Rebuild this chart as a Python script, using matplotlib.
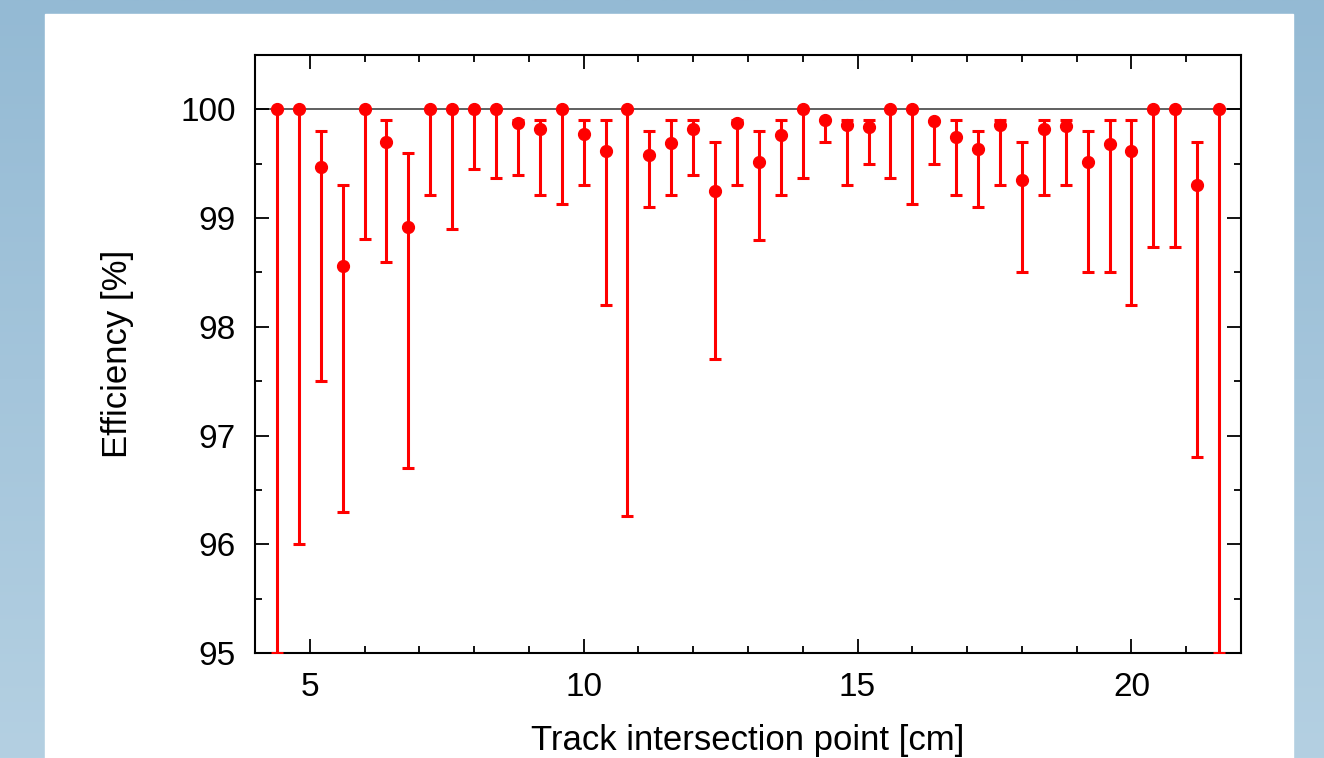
import numpy as np
import matplotlib
matplotlib.use("Agg")
import matplotlib.pyplot as plt
from matplotlib.colors import LinearSegmentedColormap

plt.rcParams['font.family'] = ['Liberation Sans', 'DejaVu Sans']

# track intersection point [cm]
position = [4.4, 4.8, 5.2, 5.6, 6.0, 6.4, 6.8, 7.2, 7.6, 8.0, 8.4, 8.8, 9.2,
            9.6, 10.0, 10.4, 10.8, 11.2, 11.6, 12.0, 12.4, 12.8, 13.2, 13.6, 14.0,
            14.4, 14.8, 15.2, 15.6, 16.0, 16.4, 16.8, 17.2, 17.6, 18.0, 18.4, 18.8,
            19.2, 19.6, 20.0, 20.4, 20.8, 21.2, 21.6]

# efficiency [%]
efficiency = [100.0, 100.0, 99.47, 98.56, 100.0, 99.70, 98.92, 100.0, 100.0, 100.0, 100.0, 99.87, 99.82,
              100.0, 99.77, 99.62, 100.0, 99.58, 99.69, 99.82, 99.25, 99.87, 99.52, 99.76, 100.0,
              99.90, 99.86, 99.84, 100.0, 100.0, 99.89, 99.75, 99.64, 99.86, 99.35, 99.82, 99.85,
              99.52, 99.68, 99.62, 100.0, 100.0, 99.30, 100.0]

# ends of the error bars [%]
err_low = [95.0, 96.0, 97.5, 96.3, 98.81, 98.6, 96.7, 99.21, 98.9, 99.45, 99.37, 99.4, 99.21,
           99.13, 99.3, 98.2, 96.26, 99.1, 99.21, 99.4, 97.7, 99.3, 98.8, 99.21, 99.37,
           99.7, 99.3, 99.5, 99.37, 99.13, 99.5, 99.21, 99.1, 99.3, 98.5, 99.21, 99.3,
           98.5, 98.5, 98.2, 98.73, 98.73, 96.8, 95.0]
err_high = [100.0, 100.0, 99.8, 99.3, 100.0, 99.9, 99.6, 100.0, 100.0, 100.0, 100.0, 99.9, 99.9,
            100.0, 99.9, 99.9, 100.0, 99.8, 99.9, 99.9, 99.7, 99.9, 99.8, 99.9, 100.0,
            99.9, 99.9, 99.9, 100.0, 100.0, 99.89, 99.9, 99.8, 99.9, 99.7, 99.9, 99.9,
            99.8, 99.9, 99.9, 100.0, 100.0, 99.7, 100.0]

eff = np.array(efficiency)
yerr = [eff - np.array(err_low), np.array(err_high) - eff]

fig = plt.figure(figsize=(13.24, 7.58), dpi=100)

# slide background
bg = fig.add_axes([0, 0, 1, 1])
cmap = LinearSegmentedColormap.from_list('slide', ['#94bad4', '#b4d0e2'])
bg.imshow(np.linspace(0, 1, 256).reshape(-1, 1), aspect='auto', cmap=cmap,
          extent=[0, 1, 0, 1], origin='upper')
bg.add_patch(plt.Rectangle((45 / 1324, 0), (1293 - 45) / 1324, (758 - 14) / 758,
                           color='white', zorder=2))
bg.set_xlim(0, 1)
bg.set_ylim(0, 1)
bg.axis('off')

ax = fig.add_axes([255 / 1324, 105 / 758, 986 / 1324, 598 / 758])
ax.axhline(100, color='#444444', lw=1.2, zorder=1)
ax.errorbar(position, efficiency, yerr=yerr, fmt='o', color='red', ms=8.5,
            elinewidth=2.2, capsize=4, capthick=2.2, zorder=3)

ax.set_xlim(4, 22)
ax.set_ylim(95, 100.5)
ax.set_xticks([5, 10, 15, 20])
ax.set_xticks(np.arange(4, 23, 1), minor=True)
ax.set_yticks([95, 96, 97, 98, 99, 100])
ax.set_yticks(np.arange(95, 100.6, 0.5), minor=True)
ax.tick_params(which='both', direction='in', top=True, right=True, width=1.3,
               labelsize=24, pad=14)
ax.tick_params(which='major', length=10)
ax.tick_params(which='minor', length=5)
for s in ax.spines.values():
    s.set_linewidth(1.5)

ax.set_xlabel('Track intersection point [cm]', fontsize=25, labelpad=15)
ax.set_ylabel('Efficiency [%]', fontsize=25, labelpad=33)

fig.savefig('out.png', dpi=100)
